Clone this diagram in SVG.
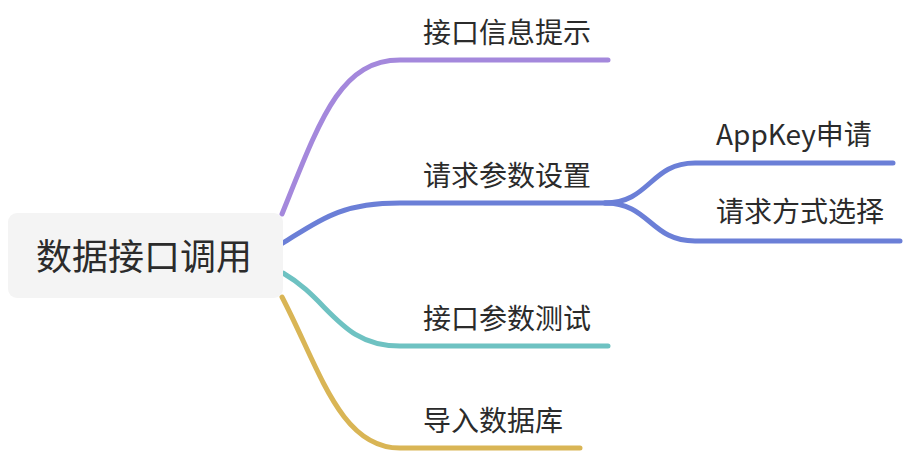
<svg xmlns="http://www.w3.org/2000/svg" width="908" height="454" viewBox="0 0 908 454">
<style>
.t{font-family:"Microsoft YaHei","Noto Sans CJK SC","Noto Sans",sans-serif;fill:#2b2b2b}
.l{font-size:28px}
.e{fill:none;stroke-width:5;stroke-linecap:round}
</style>
<rect width="908" height="454" fill="#ffffff"/>
<g id="connectors">
<path class="e" stroke="#a488dc" d="M282,214 C320,120 340,60 400,60 L608,60"/>
<path class="e" stroke="#6b7fd7" d="M283,243 C320,220 340,203 400,203 L620,203"/>
<path class="e" stroke="#6b7fd7" d="M605,203 C650,203 650,163 695,163 L893,163"/>
<path class="e" stroke="#6b7fd7" d="M605,203 C650,203 650,241 695,241 L900,241"/>
<path class="e" stroke="#6ec2c2" d="M283,273 C330,300 340,346 400,346 L608,346"/>
<path class="e" stroke="#d9b555" d="M282,297 C320,370 340,448 400,448 L580,448"/>
</g>
<g id="root">
<rect x="8" y="213" width="275" height="85" rx="9" fill="#f4f4f4"/>
<text class="t" x="144" y="270" font-size="36" text-anchor="middle">数据接口调用</text>
</g>
<g id="n1"><text class="t l" x="423" y="43">接口信息提示</text></g>
<g id="n2"><text class="t l" x="423" y="186">请求参数设置</text></g>
<g id="n3"><text class="t l" x="716" y="145">AppKey申请</text></g>
<g id="n4"><text class="t l" x="716" y="222">请求方式选择</text></g>
<g id="n5"><text class="t l" x="423" y="329">接口参数测试</text></g>
<g id="n6"><text class="t l" x="423" y="431">导入数据库</text></g>
</svg>
